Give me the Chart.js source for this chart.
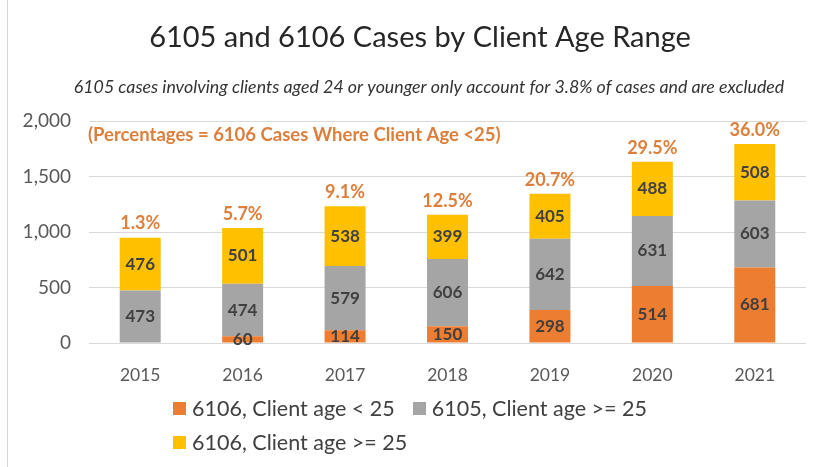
<!DOCTYPE html>
<html>
<head>
<meta charset="utf-8">
<script src="https://cdn.jsdelivr.net/npm/chart.js@4"></script>
<style>
html, body { margin: 0; padding: 0; background: #fff; }
#wrap { position: relative; width: 817px; height: 467px; }
#frame { position: absolute; left: 7px; top: 0; width: 1px; height: 467px; background: #d6d6d6; }
#legend { position: absolute; left: 173px; top: 391px; width: 520px; display: flex; flex-wrap: wrap;
          font-family: Lato, sans-serif; font-size: 21.5px; color: #404040; }
.item { display: flex; align-items: center; height: 34px; margin-right: 18px; white-space: nowrap; }
.box { width: 13px; height: 13px; margin-right: 6px; }
</style>
</head>
<body>
<div id="wrap">
  <div id="frame"></div>
  <canvas id="chart1" width="817" height="467"></canvas>
  <div id="legend"></div>
</div>
<script>
// data
const years = ['2015', '2016', '2017', '2018', '2019', '2020', '2021'];
const under25_6106 = [0, 60, 114, 150, 298, 514, 681];
const over25_6105 = [473, 474, 579, 606, 642, 631, 603];
const over25_6106 = [476, 501, 538, 399, 405, 488, 508];
const pctLabels = ['1.3%', '5.7%', '9.1%', '12.5%', '20.7%', '29.5%', '36.0%'];
const seriesNames = ['6106, Client age < 25', '6105, Client age >= 25', '6106, Client age >= 25'];
const colors = ['#ed7d31', '#a5a5a5', '#ffc000'];
const titleText = '6105 and 6106 Cases by Client Age Range';
const subtitleText = '6105 cases involving clients aged 24 or younger only account for 3.8% of cases and are excluded';
const noteText = '(Percentages = 6106 Cases Where Client Age <25)';

const FONT = 'Lato, sans-serif';

// titles (the original is a bit off-centre, so drawn by hand)
const titlePlugin = {
    id: 'titles',
    afterDraw(chart) {
        const ctx = chart.ctx;
        ctx.save();
        ctx.textAlign = 'center';
        ctx.textBaseline = 'middle';
        ctx.fillStyle = '#262626';
        ctx.font = '29px ' + FONT;
        ctx.fillText(titleText, 420, 38);
        ctx.fillStyle = '#333';
        ctx.font = 'italic 17.8px ' + FONT;
        ctx.fillText(subtitleText, 429, 87);
        ctx.restore();
    }
};

// value labels inside segments + percentages on top
const labelPlugin = {
    id: 'segLabels',
    afterDatasetsDraw(chart) {
        const ctx = chart.ctx;
        ctx.save();
        ctx.textAlign = 'center';
        ctx.textBaseline = 'middle';
        ctx.font = 'bold 17px ' + FONT;
        ctx.fillStyle = '#404040';
        chart.data.datasets.forEach((ds, i) => {
            chart.getDatasetMeta(i).data.forEach((bar, j) => {
                if (!ds.data[j]) return;
                const p = bar.getProps(['x', 'y', 'base'], true);
                ctx.fillText(ds.data[j], p.x, (p.y + p.base) / 2);
            });
        });

        ctx.font = 'bold 18px ' + FONT;
        ctx.fillStyle = '#dd7e3b';
        chart.getDatasetMeta(2).data.forEach((bar, j) => {
            const p = bar.getProps(['x', 'y'], true);
            ctx.fillText(pctLabels[j], p.x, p.y - 14);
        });

        ctx.textAlign = 'left';
        ctx.font = 'bold 18.5px ' + FONT;
        ctx.fillText(noteText, chart.chartArea.left - 1, chart.chartArea.top + 14);
        ctx.restore();
    }
};

let chart1 = new Chart(document.getElementById('chart1'), {
    type: 'bar',
    data: {
        labels: years,
        datasets: [
            { label: seriesNames[0], data: under25_6106, backgroundColor: colors[0] },
            { label: seriesNames[1], data: over25_6105, backgroundColor: colors[1] },
            { label: seriesNames[2], data: over25_6106, backgroundColor: colors[2] }
        ]
    },
    options: {
        responsive: false,
        animation: false,
        layout: { padding: { left: 0, right: 11, top: 121, bottom: 0 } },
        datasets: { bar: { categoryPercentage: 1, barPercentage: 0.4 } },
        plugins: {
            legend: { display: false },
            tooltip: { enabled: false }
        },
        scales: {
            x: {
                stacked: true,
                grid: { display: false },
                border: { display: false },
                ticks: { color: '#595959', font: { family: FONT, size: 17.5 }, padding: 14 },
                afterFit: s => { s.height = 124; }
            },
            y: {
                stacked: true,
                min: 0,
                max: 2000,
                grid: { color: '#d9d9d9', drawTicks: false },
                border: { display: false },
                ticks: { stepSize: 500, color: '#595959', font: { family: FONT, size: 19 }, padding: 18 },
                afterFit: s => { s.width = 89; }
            }
        }
    },
    plugins: [labelPlugin, titlePlugin]
});

// legend (two rows like the original)
const legendEl = document.getElementById('legend');
seriesNames.forEach((name, i) => {
    const item = document.createElement('div');
    item.className = 'item';
    item.innerHTML = '<span class="box" style="background:' + colors[i] + '"></span>' + name;
    legendEl.appendChild(item);
});
</script>
</body>
</html>
